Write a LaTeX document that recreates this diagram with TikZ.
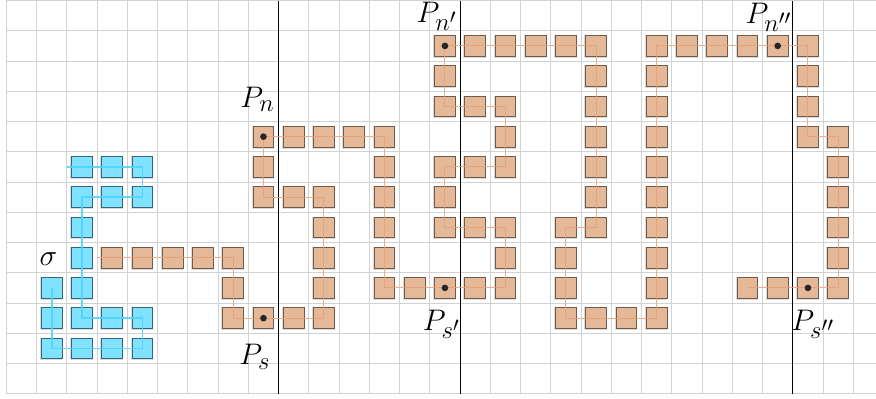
\documentclass[tikz,border=0pt]{standalone}
\definecolor{ofill}{RGB}{229,184,151}
\definecolor{obord}{RGB}{112,90,74}
\definecolor{oline}{RGB}{234,160,116}
\definecolor{bfill}{RGB}{128,226,255}
\definecolor{bbord}{RGB}{52,102,122}
\definecolor{bline}{RGB}{80,212,255}
\newcommand{\biglbl}[1]{\scalebox{1.125}{#1}}
\begin{document}
\begin{tikzpicture}[x=1cm,y=1cm,
  osq/.style={draw=obord, fill=ofill, line width=0.8pt, minimum size=0.69cm, inner sep=0pt, outer sep=0pt},
  bsq/.style={draw=bbord, fill=bfill, line width=0.8pt, minimum size=0.69cm, inner sep=0pt, outer sep=0pt},
  sqshadow/.style={fill=black!30, opacity=0.45},
  opath/.style={draw=oline, line width=0.9pt, opacity=0.85},
  bpath/.style={draw=bline, line width=1.6pt, opacity=0.9},
  dotnode/.style={circle, fill=black!85, inner sep=0pt, minimum size=0.22cm},
  lbl/.style={font=\Huge, inner sep=0pt},
  gridline/.style={draw=gray!35, line width=0.9pt},
  sepline/.style={draw=black, line width=0.8pt}]
\useasboundingbox (-0.21,-0.14) rectangle (28.75,13.018);
\draw[gridline] (0,0) grid (28.8,13);
\foreach \xx in {9,15,26} \draw[sepline] (\xx,0) -- (\xx,13);
% orange squares
\foreach \x/\y in {3/4,4/4,5/4,6/4,7/4,7/3,7/2,8/2,9/2,10/2,10/3,10/4,10/5,10/6,9/6,8/6,8/7,8/8,9/8,10/8,11/8,12/8,12/7,12/6,12/5,12/4,12/3,13/3,14/3,15/3,16/3,16/4,16/5,15/5,14/5,14/6,14/7,15/7,16/7,16/8,16/9,15/9,14/9,14/10,14/11,15/11,16/11,17/11,18/11,19/11,19/10,19/9,19/8,19/7,19/6,19/5,18/5,18/4,18/3,18/2,19/2,20/2,21/2,21/3,21/4,21/5,21/6,21/7,21/8,21/9,21/10,21/11,22/11,23/11,24/11,25/11,26/11,26/10,26/9,26/8,27/8,27/7,27/6,27/5,27/4,27/3,26/3,25/3,24/3}{
  \fill[sqshadow] (\x+0.5-0.395,\y+0.5-0.395) rectangle ++(0.75,0.75);
  \node[osq] (o\x-\y) at (\x+0.5,\y+0.5) {};
}
% blue squares
\foreach \x/\y in {2/7,3/7,4/7,4/6,3/6,2/6,2/5,2/4,2/3,2/2,3/2,4/2,4/1,3/1,2/1,1/1,1/2,1/3}{
  \fill[sqshadow] (\x+0.5-0.395,\y+0.5-0.395) rectangle ++(0.75,0.75);
  \node[bsq] (b\x-\y) at (\x+0.5,\y+0.5) {};
}
\coordinate (ostart) at (3,4.5);
\coordinate (bstart) at (2,7.5);
\draw[opath] (ostart) -- (o7-4.center) -- (o7-2.center) -- (o10-2.center) -- (o10-6.center) -- (o8-6.center) -- (o8-8.center) -- (o12-8.center) -- (o12-3.center) -- (o16-3.center) -- (o16-5.center) -- (o14-5.center) -- (o14-7.center) -- (o16-7.center) -- (o16-9.center) -- (o14-9.center) -- (o14-11.center) -- (o19-11.center) -- (o19-5.center) -- (o18-5.center) -- (o18-2.center) -- (o21-2.center) -- (o21-11.center) -- (o26-11.center) -- (o26-8.center) -- (o27-8.center) -- (o27-3.center) -- (o24-3.center);
\draw[bpath] (bstart) -- (b4-7.center) -- (b4-6.center) -- (b2-6.center) -- (b2-2.center) -- (b4-2.center) -- (b4-1.center) -- (b1-1.center) -- (b1-3.center);
% dots
\node[dotnode] (dPs) at (o8-2.center) {};
\node[dotnode] (dPn) at (o8-8.center) {};
\node[dotnode] (dPn1) at (o14-11.center) {};
\node[dotnode] (dPs1) at (o14-3.center) {};
\node[dotnode] (dPn2) at (o25-11.center) {};
\node[dotnode] (dPs2) at (o26-3.center) {};
% labels
\node[lbl] (lPn) at (8.30,9.74) {\biglbl{$P_n$}};
\node[lbl] (lPs) at (8.21,1.22) {\biglbl{$P_s$}};
\node[lbl] (lPn1) at (14.23,12.47) {\biglbl{$P_{n'}$}};
\node[lbl] (lPs1) at (14.38,2.29) {\biglbl{$P_{s'}$}};
\node[lbl] (lPn2) at (25.2,12.45) {\biglbl{$P_{n''}$}};
\node[lbl] (lPs2) at (26.66,2.29) {\biglbl{$P_{s''}$}};
\node[lbl] (lsig) at (1.39,4.44) {\biglbl{$\sigma$}};
\end{tikzpicture}
\end{document}
